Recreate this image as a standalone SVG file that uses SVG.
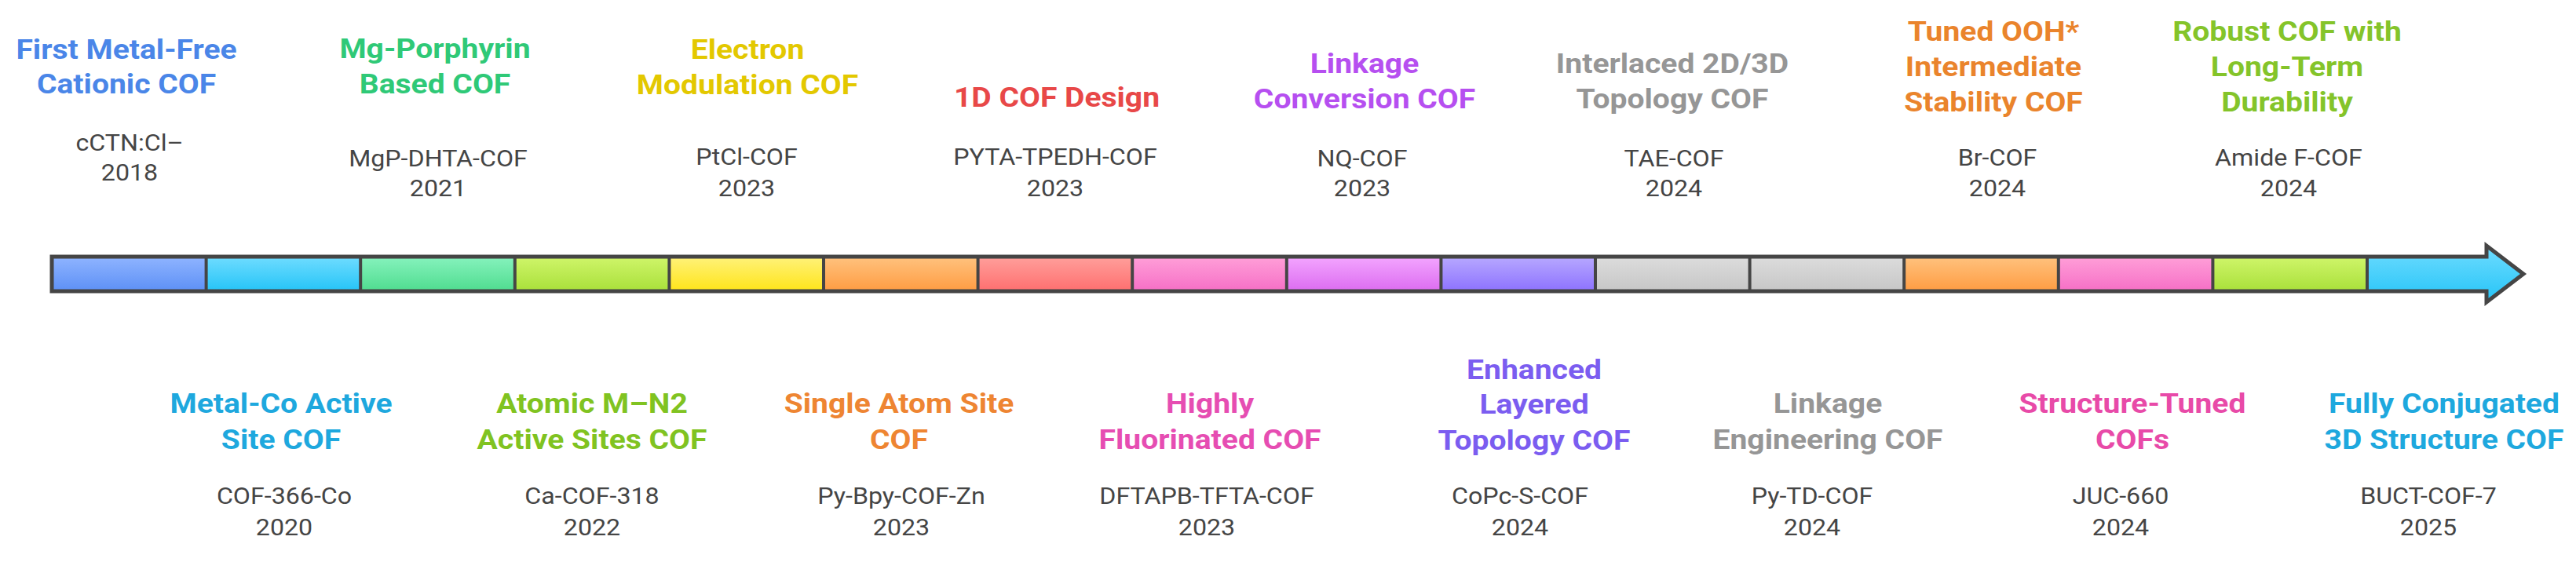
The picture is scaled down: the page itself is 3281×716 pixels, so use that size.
<svg xmlns="http://www.w3.org/2000/svg" width="3281" height="716" viewBox="0 0 3281 716">
<defs>
<style>
.t{font-family:Roboto,"Liberation Sans",sans-serif;font-weight:700;font-size:36px;text-anchor:middle}
.s{font-family:Roboto,"Liberation Sans",sans-serif;font-weight:400;font-size:29px;text-anchor:middle;fill:#454545}
.sep{stroke:#454545;stroke-width:4}
.outline{fill:none;stroke:#454545;stroke-width:5;stroke-linejoin:miter}
</style>
<linearGradient id="gBlue" x1="0" y1="0" x2="0" y2="1"><stop offset="0" stop-color="#8fb4ff"/><stop offset="1" stop-color="#5d90f6"/></linearGradient>
<linearGradient id="gCyan" x1="0" y1="0" x2="0" y2="1"><stop offset="0" stop-color="#6fdcff"/><stop offset="1" stop-color="#25c4f7"/></linearGradient>
<linearGradient id="gGreen" x1="0" y1="0" x2="0" y2="1"><stop offset="0" stop-color="#86f2bd"/><stop offset="1" stop-color="#4fdc8f"/></linearGradient>
<linearGradient id="gLime" x1="0" y1="0" x2="0" y2="1"><stop offset="0" stop-color="#cff56a"/><stop offset="1" stop-color="#a9e03a"/></linearGradient>
<linearGradient id="gYellow" x1="0" y1="0" x2="0" y2="1"><stop offset="0" stop-color="#fff27a"/><stop offset="1" stop-color="#ffe419"/></linearGradient>
<linearGradient id="gOrange" x1="0" y1="0" x2="0" y2="1"><stop offset="0" stop-color="#ffc27e"/><stop offset="1" stop-color="#ff9c42"/></linearGradient>
<linearGradient id="gSalmon" x1="0" y1="0" x2="0" y2="1"><stop offset="0" stop-color="#ff9f9b"/><stop offset="1" stop-color="#ff6f6f"/></linearGradient>
<linearGradient id="gPink" x1="0" y1="0" x2="0" y2="1"><stop offset="0" stop-color="#ff9fd8"/><stop offset="1" stop-color="#f66fc6"/></linearGradient>
<linearGradient id="gViolet" x1="0" y1="0" x2="0" y2="1"><stop offset="0" stop-color="#f3a5ff"/><stop offset="1" stop-color="#dc6cf0"/></linearGradient>
<linearGradient id="gPurple" x1="0" y1="0" x2="0" y2="1"><stop offset="0" stop-color="#b7a8ff"/><stop offset="1" stop-color="#8d72ff"/></linearGradient>
<linearGradient id="gGray" x1="0" y1="0" x2="0" y2="1"><stop offset="0" stop-color="#dcdcdc"/><stop offset="1" stop-color="#c6c6c6"/></linearGradient>
</defs>
<rect width="3281" height="716" fill="#ffffff"/>

<g id="timeline">
<rect x="66" y="327" width="196.6" height="44" fill="url(#gBlue)"/>
<rect x="262.6" y="327" width="196.6" height="44" fill="url(#gCyan)"/>
<rect x="459.2" y="327" width="196.6" height="44" fill="url(#gGreen)"/>
<rect x="655.8" y="327" width="196.6" height="44" fill="url(#gLime)"/>
<rect x="852.4" y="327" width="196.6" height="44" fill="url(#gYellow)"/>
<rect x="1049" y="327" width="196.6" height="44" fill="url(#gOrange)"/>
<rect x="1245.6" y="327" width="196.6" height="44" fill="url(#gSalmon)"/>
<rect x="1442.2" y="327" width="196.6" height="44" fill="url(#gPink)"/>
<rect x="1638.8" y="327" width="196.6" height="44" fill="url(#gViolet)"/>
<rect x="1835.4" y="327" width="196.6" height="44" fill="url(#gPurple)"/>
<rect x="2032" y="327" width="196.6" height="44" fill="url(#gGray)"/>
<rect x="2228.6" y="327" width="196.6" height="44" fill="url(#gGray)"/>
<rect x="2425.2" y="327" width="196.6" height="44" fill="url(#gOrange)"/>
<rect x="2621.8" y="327" width="196.6" height="44" fill="url(#gPink)"/>
<rect x="2818.4" y="327" width="196.6" height="44" fill="url(#gLime)"/>
<polygon points="3015,327 3167,327 3167,313 3214,349 3167,385 3167,371 3015,371" fill="url(#gCyan)"/>
<g class="sep">
<line x1="262.6" y1="327" x2="262.6" y2="371"/>
<line x1="459.2" y1="327" x2="459.2" y2="371"/>
<line x1="655.8" y1="327" x2="655.8" y2="371"/>
<line x1="852.4" y1="327" x2="852.4" y2="371"/>
<line x1="1049" y1="327" x2="1049" y2="371"/>
<line x1="1245.6" y1="327" x2="1245.6" y2="371"/>
<line x1="1442.2" y1="327" x2="1442.2" y2="371"/>
<line x1="1638.8" y1="327" x2="1638.8" y2="371"/>
<line x1="1835.4" y1="327" x2="1835.4" y2="371"/>
<line x1="2032" y1="327" x2="2032" y2="371"/>
<line x1="2228.6" y1="327" x2="2228.6" y2="371"/>
<line x1="2425.2" y1="327" x2="2425.2" y2="371"/>
<line x1="2621.8" y1="327" x2="2621.8" y2="371"/>
<line x1="2818.4" y1="327" x2="2818.4" y2="371"/>
<line x1="3015" y1="327" x2="3015" y2="371"/>
</g>
<path class="outline" d="M66,327 H3167 V313 L3214,349 L3167,385 V371 H66 Z"/>
</g>

<g id="n1">
<g transform="translate(161 0) scale(1.085 1)"><text class="t" fill="#4a86e8"><tspan x="0" y="75">First Metal-Free</tspan><tspan x="0" y="119">Cationic COF</tspan></text></g>
<g transform="translate(165 0) scale(1.11 1)"><text class="s"><tspan x="0" y="192">cCTN:Cl–</tspan><tspan x="0" y="230">2018</tspan></text></g>
</g>
<g id="n2">
<g transform="translate(554 0) scale(1.085 1)"><text class="t" fill="#2fc977"><tspan x="0" y="74">Mg-Porphyrin</tspan><tspan x="0" y="119">Based COF</tspan></text></g>
<g transform="translate(558 0) scale(1.11 1)"><text class="s"><tspan x="0" y="212">MgP-DHTA-COF</tspan><tspan x="0" y="250">2021</tspan></text></g>
</g>
<g id="n3">
<g transform="translate(952 0) scale(1.085 1)"><text class="t" fill="#e3c800"><tspan x="0" y="75">Electron</tspan><tspan x="0" y="120">Modulation COF</tspan></text></g>
<g transform="translate(951 0) scale(1.11 1)"><text class="s"><tspan x="0" y="210">PtCl-COF</tspan><tspan x="0" y="250">2023</tspan></text></g>
</g>
<g id="n4">
<g transform="translate(1346 0) scale(1.085 1)"><text class="t" fill="#e84848"><tspan x="0" y="136">1D COF Design</tspan></text></g>
<g transform="translate(1344 0) scale(1.11 1)"><text class="s"><tspan x="0" y="210">PYTA-TPEDH-COF</tspan><tspan x="0" y="250">2023</tspan></text></g>
</g>
<g id="n5">
<g transform="translate(1738 0) scale(1.085 1)"><text class="t" fill="#b64ff0"><tspan x="0" y="93">Linkage</tspan><tspan x="0" y="138">Conversion COF</tspan></text></g>
<g transform="translate(1735 0) scale(1.11 1)"><text class="s"><tspan x="0" y="212">NQ-COF</tspan><tspan x="0" y="250">2023</tspan></text></g>
</g>
<g id="n6">
<g transform="translate(2130 0) scale(1.085 1)"><text class="t" fill="#969696"><tspan x="0" y="93">Interlaced 2D/3D</tspan><tspan x="0" y="138">Topology COF</tspan></text></g>
<g transform="translate(2132 0) scale(1.11 1)"><text class="s"><tspan x="0" y="212">TAE-COF</tspan><tspan x="0" y="250">2024</tspan></text></g>
</g>
<g id="n7">
<g transform="translate(2539 0) scale(1.085 1)"><text class="t" fill="#ea842c"><tspan x="0" y="52">Tuned OOH*</tspan><tspan x="0" y="97">Intermediate</tspan><tspan x="0" y="142">Stability COF</tspan></text></g>
<g transform="translate(2544 0) scale(1.11 1)"><text class="s"><tspan x="0" y="211">Br-COF</tspan><tspan x="0" y="250">2024</tspan></text></g>
</g>
<g id="n8">
<g transform="translate(2913 0) scale(1.085 1)"><text class="t" fill="#84c42a"><tspan x="0" y="52">Robust COF with</tspan><tspan x="0" y="97">Long-Term</tspan><tspan x="0" y="142">Durability</tspan></text></g>
<g transform="translate(2915 0) scale(1.11 1)"><text class="s"><tspan x="0" y="211">Amide F-COF</tspan><tspan x="0" y="250">2024</tspan></text></g>
</g>

<g id="n9">
<g transform="translate(358 0) scale(1.085 1)"><text class="t" fill="#1ea8de"><tspan x="0" y="526">Metal-Co Active</tspan><tspan x="0" y="572">Site COF</tspan></text></g>
<g transform="translate(362 0) scale(1.11 1)"><text class="s"><tspan x="0" y="642">COF-366-Co</tspan><tspan x="0" y="682">2020</tspan></text></g>
</g>
<g id="n10">
<g transform="translate(754 0) scale(1.085 1)"><text class="t" fill="#80c321"><tspan x="0" y="526">Atomic M–N2</tspan><tspan x="0" y="572">Active Sites COF</tspan></text></g>
<g transform="translate(754 0) scale(1.11 1)"><text class="s"><tspan x="0" y="642">Ca-COF-318</tspan><tspan x="0" y="682">2022</tspan></text></g>
</g>
<g id="n11">
<g transform="translate(1145 0) scale(1.085 1)"><text class="t" fill="#ee8532"><tspan x="0" y="526">Single Atom Site</tspan><tspan x="0" y="572">COF</tspan></text></g>
<g transform="translate(1148 0) scale(1.11 1)"><text class="s"><tspan x="0" y="642">Py-Bpy-COF-Zn</tspan><tspan x="0" y="682">2023</tspan></text></g>
</g>
<g id="n12">
<g transform="translate(1541 0) scale(1.085 1)"><text class="t" fill="#e64db2"><tspan x="0" y="526">Highly</tspan><tspan x="0" y="572">Fluorinated COF</tspan></text></g>
<g transform="translate(1537 0) scale(1.11 1)"><text class="s"><tspan x="0" y="642">DFTAPB-TFTA-COF</tspan><tspan x="0" y="682">2023</tspan></text></g>
</g>
<g id="n13">
<g transform="translate(1954 0) scale(1.085 1)"><text class="t" fill="#7b5df0"><tspan x="0" y="483">Enhanced</tspan><tspan x="0" y="527">Layered</tspan><tspan x="0" y="573">Topology COF</tspan></text></g>
<g transform="translate(1936 0) scale(1.11 1)"><text class="s"><tspan x="0" y="642">CoPc-S-COF</tspan><tspan x="0" y="682">2024</tspan></text></g>
</g>
<g id="n14">
<g transform="translate(2328 0) scale(1.085 1)"><text class="t" fill="#969696"><tspan x="0" y="526">Linkage</tspan><tspan x="0" y="572">Engineering COF</tspan></text></g>
<g transform="translate(2308 0) scale(1.11 1)"><text class="s"><tspan x="0" y="642">Py-TD-COF</tspan><tspan x="0" y="682">2024</tspan></text></g>
</g>
<g id="n15">
<g transform="translate(2716 0) scale(1.085 1)"><text class="t" fill="#e84aa8"><tspan x="0" y="526">Structure-Tuned</tspan><tspan x="0" y="572">COFs</tspan></text></g>
<g transform="translate(2701 0) scale(1.11 1)"><text class="s"><tspan x="0" y="642">JUC-660</tspan><tspan x="0" y="682">2024</tspan></text></g>
</g>
<g id="n16">
<g transform="translate(3113 0) scale(1.085 1)"><text class="t" fill="#1ea8de"><tspan x="0" y="526">Fully Conjugated</tspan><tspan x="0" y="572">3D Structure COF</tspan></text></g>
<g transform="translate(3093 0) scale(1.11 1)"><text class="s"><tspan x="0" y="642">BUCT-COF-7</tspan><tspan x="0" y="682">2025</tspan></text></g>
</g>
</svg>
